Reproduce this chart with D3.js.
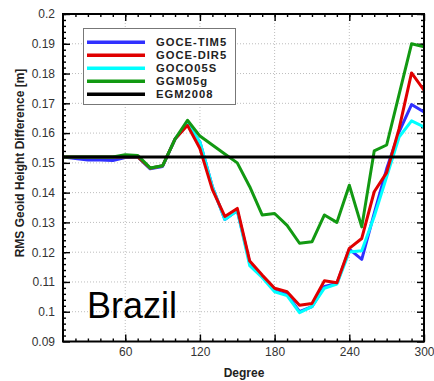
<!DOCTYPE html>
<html>
<head>
<meta charset="utf-8">
<script src="https://cdn.jsdelivr.net/npm/d3@7"></script>
<style>
  body { margin: 0; background: #fff; }
  svg { display: block; }
  .tick text { font-family: "Liberation Sans", Arial, sans-serif; font-size: 12px; fill: #333; }
</style>
</head>
<body>
<svg id="chart" width="434" height="381"></svg>
<script>
// degrees of the spectrum (x axis)
const degrees = [10, 20, 30, 40, 50, 60, 70, 80, 90, 100, 110, 120, 130, 140, 150, 160, 170, 180, 190, 200, 210, 220, 230, 240, 250, 260, 270, 280, 290, 300];

// RMS geoid height difference [m] per model
const goceTim5 = [0.152, 0.1515, 0.151, 0.151, 0.1508, 0.1518, 0.152, 0.148, 0.1488, 0.158, 0.163, 0.157, 0.142, 0.131, 0.134, 0.1165, 0.112, 0.107, 0.1058, 0.1, 0.1017, 0.1085, 0.1095, 0.121, 0.1176, 0.133, 0.148, 0.1604, 0.1696, 0.1671];
const goceDir5 = [0.152, 0.152, 0.152, 0.152, 0.152, 0.152, 0.152, 0.1482, 0.149, 0.158, 0.1626, 0.1548, 0.141, 0.132, 0.1347, 0.117, 0.1123, 0.1079, 0.1067, 0.1022, 0.1028, 0.1104, 0.1097, 0.1213, 0.1246, 0.1403, 0.1467, 0.1615, 0.1802, 0.1744];
const goco05s = [0.152, 0.152, 0.152, 0.152, 0.152, 0.152, 0.152, 0.1482, 0.149, 0.158, 0.163, 0.157, 0.142, 0.131, 0.134, 0.1155, 0.1115, 0.1067, 0.1054, 0.0997, 0.1017, 0.1079, 0.1093, 0.1201, 0.1205, 0.132, 0.1453, 0.1587, 0.1641, 0.1621];
const ggm05g = [0.152, 0.152, 0.152, 0.152, 0.152, 0.1527, 0.1525, 0.1483, 0.149, 0.158, 0.1643, 0.159, 0.156, 0.153, 0.150, 0.142, 0.1325, 0.133, 0.129, 0.123, 0.1235, 0.1325, 0.130, 0.1425, 0.1285, 0.154, 0.156, 0.173, 0.190, 0.189];
const egm2008 = 0.152;

// tick labels
const xTicks = [60, 120, 180, 240, 300];
const yTicks = [0.09, 0.1, 0.11, 0.12, 0.13, 0.14, 0.15, 0.16, 0.17, 0.18, 0.19, 0.2];

const seriesNames = ["GOCE-TIM5", "GOCE-DIR5", "GOCO05S", "GGM05g", "EGM2008"];
const seriesColors = ["#3030ff", "#e00000", "#00ffff", "#129912", "#000000"];

const plot = { left: 63, right: 424, top: 14, bottom: 341.5 };

const svg = d3.select("#chart");

const x = d3.scaleLinear().domain([10, 300]).range([plot.left, plot.right]);
const y = d3.scaleLinear().domain([0.09, 0.2]).range([plot.bottom, plot.top]);

//grid lines
const grid = svg.append("g").attr("stroke", "#bdbdbd").attr("stroke-width", 1).attr("stroke-dasharray", "1,2");
grid.selectAll(".gx").data([60, 120, 180, 240]).enter().append("line")
    .attr("x1", d => x(d)).attr("x2", d => x(d))
    .attr("y1", plot.top).attr("y2", plot.bottom);
grid.selectAll(".gy").data(yTicks.slice(1, -1)).enter().append("line")
    .attr("x1", plot.left).attr("x2", plot.right)
    .attr("y1", d => y(d)).attr("y2", d => y(d));

//minor + major ticks, pointing inward
const minorX = d3.range(20, 300, 10);
const minorY = d3.range(0.092, 0.2, 0.002);

function tickAxis(axis, tr, values, size, labels) {
    const g = svg.append("g")
        .attr("transform", tr)
        .call(axis.tickValues(values).tickSize(size).tickSizeOuter(0));
    g.select(".domain").remove();
    g.selectAll("line").attr("stroke", "#000").attr("stroke-width", 1.4);
    if (!labels) g.selectAll("text").remove();
    return g;
}

tickAxis(d3.axisBottom(x), `translate(0,${plot.bottom})`, minorX, -3, false);
tickAxis(d3.axisTop(x), `translate(0,${plot.top})`, minorX, -3, false);
tickAxis(d3.axisLeft(y), `translate(${plot.left},0)`, minorY, -3, false);
tickAxis(d3.axisRight(y), `translate(${plot.right},0)`, minorY, -3, false);

tickAxis(d3.axisBottom(x).tickPadding(6), `translate(0,${plot.bottom})`, xTicks, -7, true);
tickAxis(d3.axisTop(x), `translate(0,${plot.top})`, xTicks, -7, false);
tickAxis(d3.axisLeft(y).tickPadding(8).tickFormat(d3.format("~g")), `translate(${plot.left},0)`, yTicks, -7, true);
tickAxis(d3.axisRight(y), `translate(${plot.right},0)`, yTicks, -7, false);

//series lines
svg.append("clipPath").attr("id", "clip").append("rect")
    .attr("x", plot.left).attr("y", plot.top)
    .attr("width", plot.right - plot.left).attr("height", plot.bottom - plot.top);

const line = d3.line().x(d => x(d[0])).y(d => y(d[1]));
const lines = svg.append("g").attr("clip-path", "url(#clip)");

const drawOrder = [
    { vals: goceTim5, color: seriesColors[0] },
    { vals: goco05s, color: seriesColors[2] },
    { vals: goceDir5, color: seriesColors[1] },
    { vals: ggm05g, color: seriesColors[3] },
    { vals: degrees.map(() => egm2008), color: seriesColors[4] }
];
drawOrder.forEach(s => {
    lines.append("path")
        .datum(degrees.map((d, i) => [d, s.vals[i]]))
        .attr("fill", "none")
        .attr("stroke", s.color)
        .attr("stroke-width", 3)
        .attr("stroke-linejoin", "round")
        .attr("d", line);
});

//frame
svg.append("rect")
    .attr("x", plot.left).attr("y", plot.top)
    .attr("width", plot.right - plot.left).attr("height", plot.bottom - plot.top)
    .attr("fill", "none").attr("stroke", "#000").attr("stroke-width", 2);

//legend
const legend = svg.append("g");
legend.append("rect")
    .attr("x", 83.5).attr("y", 28.5).attr("width", 152).attr("height", 76)
    .attr("fill", "#fff").attr("stroke", "#777").attr("stroke-width", 1);
const rowY = d3.scalePoint().domain(seriesNames).range([42.3, 94.3]);
seriesNames.forEach((name, i) => {
    legend.append("line")
        .attr("x1", 87).attr("x2", 145)
        .attr("y1", rowY(name)).attr("y2", rowY(name))
        .attr("stroke", seriesColors[i]).attr("stroke-width", 3.5);
    legend.append("text")
        .attr("x", 156).attr("y", rowY(name)).attr("dy", "0.36em")
        .attr("font-family", "Liberation Sans, Arial, sans-serif")
        .attr("font-weight", "bold").attr("font-size", 11.2)
        .attr("letter-spacing", 1).attr("fill", "#222")
        .text(name);
});

//axis titles
svg.append("text")
    .attr("x", 244).attr("y", 377)
    .attr("text-anchor", "middle")
    .attr("font-family", "Liberation Sans, Arial, sans-serif")
    .attr("font-weight", "bold").attr("font-size", 12).attr("fill", "#222")
    .text("Degree");

svg.append("text")
    .attr("transform", "translate(24,163) rotate(-90)")
    .attr("text-anchor", "middle")
    .attr("font-family", "Liberation Sans, Arial, sans-serif")
    .attr("font-weight", "bold").attr("font-size", 12).attr("fill", "#222")
    .text("RMS Geoid Height Difference [m]");

svg.append("text")
    .attr("x", 87).attr("y", 318)
    .attr("font-family", "Liberation Sans, Arial, sans-serif")
    .attr("font-size", 36).attr("fill", "#000")
    .text("Brazil");
</script>
</body>
</html>
